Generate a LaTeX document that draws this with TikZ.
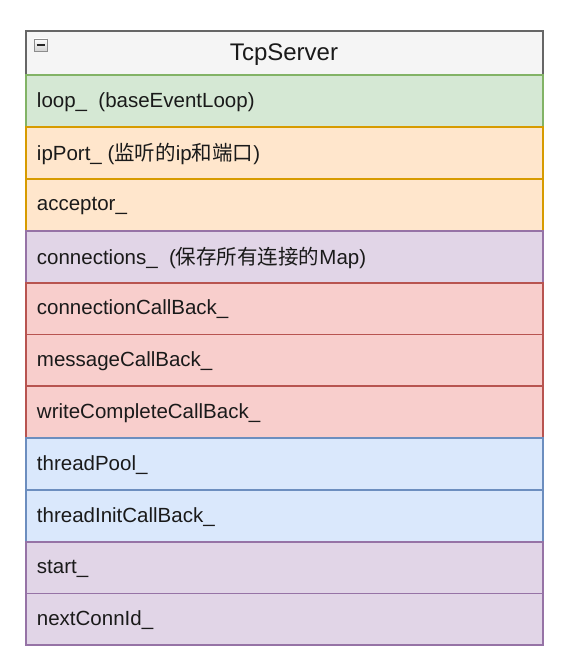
\documentclass[tikz,border=0pt]{standalone}
\usepackage{fontspec}
\setmainfont{Liberation Sans}
\newfontfamily\cjk{Noto Sans CJK SC}
\definecolor{hdrfill}{HTML}{F5F5F5}\definecolor{hdrline}{HTML}{666666}
\definecolor{gfill}{HTML}{D5E8D4}\definecolor{gline}{HTML}{82B366}
\definecolor{ofill}{HTML}{FFE6CC}\definecolor{oline}{HTML}{D79B00}
\definecolor{pfill}{HTML}{E1D5E7}\definecolor{pline}{HTML}{9673A6}
\definecolor{rfill}{HTML}{F8CECC}\definecolor{rline}{HTML}{B85450}
\definecolor{bfill}{HTML}{DAE8FC}\definecolor{bline}{HTML}{6C8EBF}
\definecolor{txt}{HTML}{1A1A1A}
\tikzset{
  rowtext/.style={anchor=west, inner sep=0pt, font=\fontsize{20.5}{24}\selectfont, text=txt},
  greenrow/.style={fill=gfill, draw=gline},
  orangerow/.style={fill=ofill, draw=oline},
  purplerow/.style={fill=pfill, draw=pline},
  redrow/.style={fill=rfill, draw=rline},
  bluerow/.style={fill=bfill, draw=bline},
}
\begin{document}
\begin{tikzpicture}[x=1pt,y=-1pt, line width=1.9pt]
\useasboundingbox (0,0) rectangle (566,669);
% header
\draw[fill=hdrfill, draw=hdrline] (26,31) rectangle (543,645);
\node[font=\fontsize{24}{28}\selectfont, text=txt, inner sep=0pt] (title) at (284,55) {TcpServer};
\shade[top color=white, bottom color=black!18] (34,39) rectangle (47,51.5);
\draw[line width=0.9pt, draw=black!45] (34,39) rectangle (47,51.5);
\draw[line width=2pt, draw=black!85] (36.5,45.3) -- (44.5,45.3);
% rows
\draw[greenrow] (26,75) rectangle (543,127.3);
\node[rowtext] (r1) at (36,102) {loop\_\ \ (baseEventLoop)};
\draw[orangerow] (26,127.3) rectangle (543,179.1);
\node[rowtext] (r2) at (36,154) {ipPort\_ ({\cjk 监听的}ip{\cjk 和端口})};
\draw[orangerow] (26,179.1) rectangle (543,230.9);
\node[rowtext] (r3) at (36,206) {acceptor\_};
\draw[purplerow] (26,230.9) rectangle (543,282.7);
\node[rowtext] (r4) at (36,257.5) {connections\_\ \ ({\cjk 保存所有连接的}Map)};
\draw[redrow] (26,282.7) rectangle (543,334.5);
\node[rowtext] (r5) at (36,309.5) {connectionCallBack\_};
\draw[redrow] (26,334.5) rectangle (543,386.3);
\node[rowtext] (r6) at (36,361.5) {messageCallBack\_};
\draw[redrow] (26,386.3) rectangle (543,438.1);
\node[rowtext] (r7) at (36,413) {writeCompleteCallBack\_};
\draw[bluerow] (26,438.1) rectangle (543,489.9);
\node[rowtext] (r8) at (36,465) {threadPool\_};
\draw[bluerow] (26,489.9) rectangle (543,541.7);
\node[rowtext] (r9) at (36,517) {threadInitCallBack\_};
\draw[purplerow] (26,541.7) rectangle (543,593.5);
\node[rowtext] (r10) at (36,568.5) {start\_};
\draw[purplerow] (26,593.5) rectangle (543,645.3);
\node[rowtext] (r11) at (36,620) {nextConnId\_};
\end{tikzpicture}
\end{document}
